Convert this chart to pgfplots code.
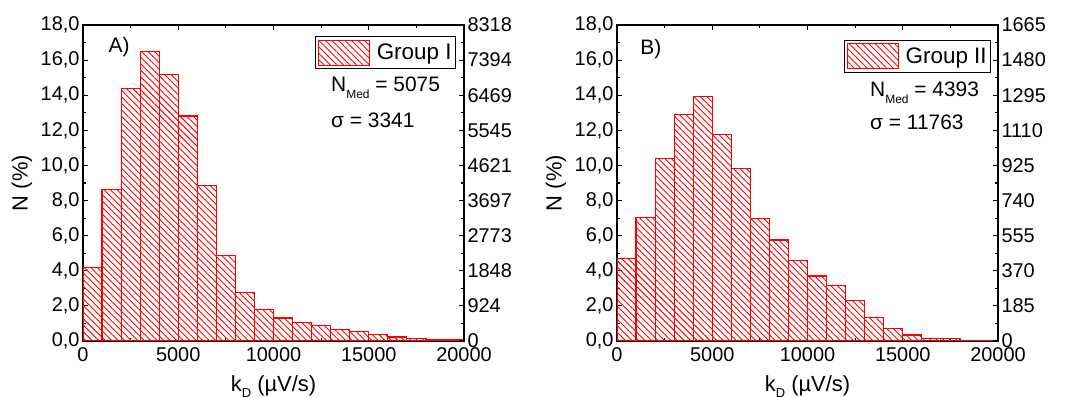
\documentclass[border=0pt]{standalone}
\usepackage{fontspec}
\setmainfont{Liberation Sans}
\usepackage{pgfplots}
\pgfplotsset{compat=1.18}
\usetikzlibrary{patterns.meta}

\tikzset{hatch/.style={pattern={Lines[angle=-45,distance=4.6bp,line width=0.9bp]}, pattern color=red}}

\pgfplotsset{
  /pgf/number format/assume math mode=true,
  hist/.style={ybar interval, draw=red, line width=1.2bp, hatch, mark=none},
  panel/.style={
    scale only axis, width=381bp, height=316bp,
    xmin=0, xmax=20000, ymin=0, ymax=18,
    xtick={0,5000,...,20000}, minor x tick num=1,
    scaled x ticks=false,
    ytick={0,2,...,18}, minor y tick num=1,
    tick align=inside, major tick length=5bp, minor tick length=3bp,
    axis line style={line width=1.2bp},
    every tick/.style={black, line width=1.1bp},
    ticklabel style={font=\fontsize{20}{22}\selectfont},
    ytick pos=left,
    xticklabel pos=lower,
    yticklabel style={/pgf/number format/.cd, fixed, fixed zerofill, precision=1, use comma},
    xticklabel style={/pgf/number format/1000 sep={}, yshift=-3bp},
    xlabel={k\raisebox{-6bp}{\fontsize{13}{13}\selectfont D} (µV/s)},
    ylabel={N (\%)},
    label style={font=\fontsize{22}{24}\selectfont},
    xlabel style={at={(axis description cs:0.5,-0.161)}, anchor=base},
    ylabel style={at={(axis description cs:-0.16,0.5)}, anchor=center},
    legend image code/.code={\draw[hatch, draw=red, line width=1.1bp] (0bp,-12.5bp) rectangle (51bp,12.5bp);},
    legend style={draw=black, line width=0.9bp, inner xsep=2bp, inner ysep=3bp,
      font=\fontsize{22.5}{24}\selectfont, legend cell align=left,
      /tikz/every odd column/.append style={column sep=5bp}},
  },
  rpanel/.style={
    scale only axis, width=381bp, height=316bp,
    xmin=0, xmax=20000, ymin=0, ymax=18,
    hide x axis, axis y line*=right,
    ytick={0,2,...,18}, minor y tick num=1,
    tick align=inside, major tick length=5bp, minor tick length=3bp,
    axis line style={line width=1.2bp},
    every tick/.style={black, line width=1.1bp},
    ticklabel style={font=\fontsize{20}{22}\selectfont},
  },
}

\begin{document}
\begin{tikzpicture}
\useasboundingbox (0,0) rectangle (1070bp,398bp);

% ---------- Panel A ----------
\begin{axis}[panel, at={(83bp,57bp)},
  legend style={at={(0.979,0.965)}, anchor=north east}]
\addplot[hist] coordinates {
(0,4.20) (1000,8.62) (2000,14.39) (3000,16.48) (4000,15.19) (5000,12.82)
(6000,8.85) (7000,4.88) (8000,2.75) (9000,1.80) (10000,1.31) (11000,1.06)
(12000,0.87) (13000,0.66) (14000,0.55) (15000,0.36) (16000,0.23) (17000,0.15)
(18000,0.10) (19000,0.08) (20000,0.08)};
\addlegendentry{Group I}
\node[anchor=west, font=\fontsize{21}{23}\selectfont] at (rel axis cs:0.058,0.930) {A)};
\node[anchor=base west, font=\fontsize{21}{23}\selectfont, inner sep=0pt] at (rel axis cs:0.651,0.788)
  {N\raisebox{-7bp}{\fontsize{12}{12}\selectfont Med} = 5075};
\node[anchor=base west, font=\fontsize{21}{23}\selectfont, inner sep=0pt] at (rel axis cs:0.651,0.677)
  {σ = 3341};
\end{axis}
\begin{axis}[rpanel, at={(83bp,57bp)},
  yticklabels={0,924,1848,2773,3697,4621,5545,6469,7394,8318}]
\addplot[draw=none] coordinates {(0,0)};
\end{axis}

% ---------- Panel B ----------
\begin{axis}[panel, at={(617bp,57bp)},
  legend style={at={(0.982,0.953)}, anchor=north east}]
\addplot[hist] coordinates {
(0,4.71) (1000,7.04) (2000,10.40) (3000,12.91) (4000,13.94) (5000,11.77)
(6000,9.82) (7000,6.97) (8000,5.75) (9000,4.59) (10000,3.70) (11000,3.17)
(12000,2.32) (13000,1.33) (14000,0.72) (15000,0.34) (16000,0.15) (17000,0.13)
(18000,0.04) (19000,0.02) (20000,0.02)};
\addlegendentry{Group II}
\node[anchor=west, font=\fontsize{21}{23}\selectfont] at (rel axis cs:0.052,0.924) {B)};
\node[anchor=base west, font=\fontsize{21}{23}\selectfont, inner sep=0pt] at (rel axis cs:0.664,0.775)
  {N\raisebox{-7bp}{\fontsize{12}{12}\selectfont Med} = 4393};
\node[anchor=base west, font=\fontsize{21}{23}\selectfont, inner sep=0pt] at (rel axis cs:0.664,0.668)
  {σ = 11763};
\end{axis}
\begin{axis}[rpanel, at={(617bp,57bp)},
  yticklabels={0,185,370,555,740,925,1110,1295,1480,1665}]
\addplot[draw=none] coordinates {(0,0)};
\end{axis}
\end{tikzpicture}
\end{document}
